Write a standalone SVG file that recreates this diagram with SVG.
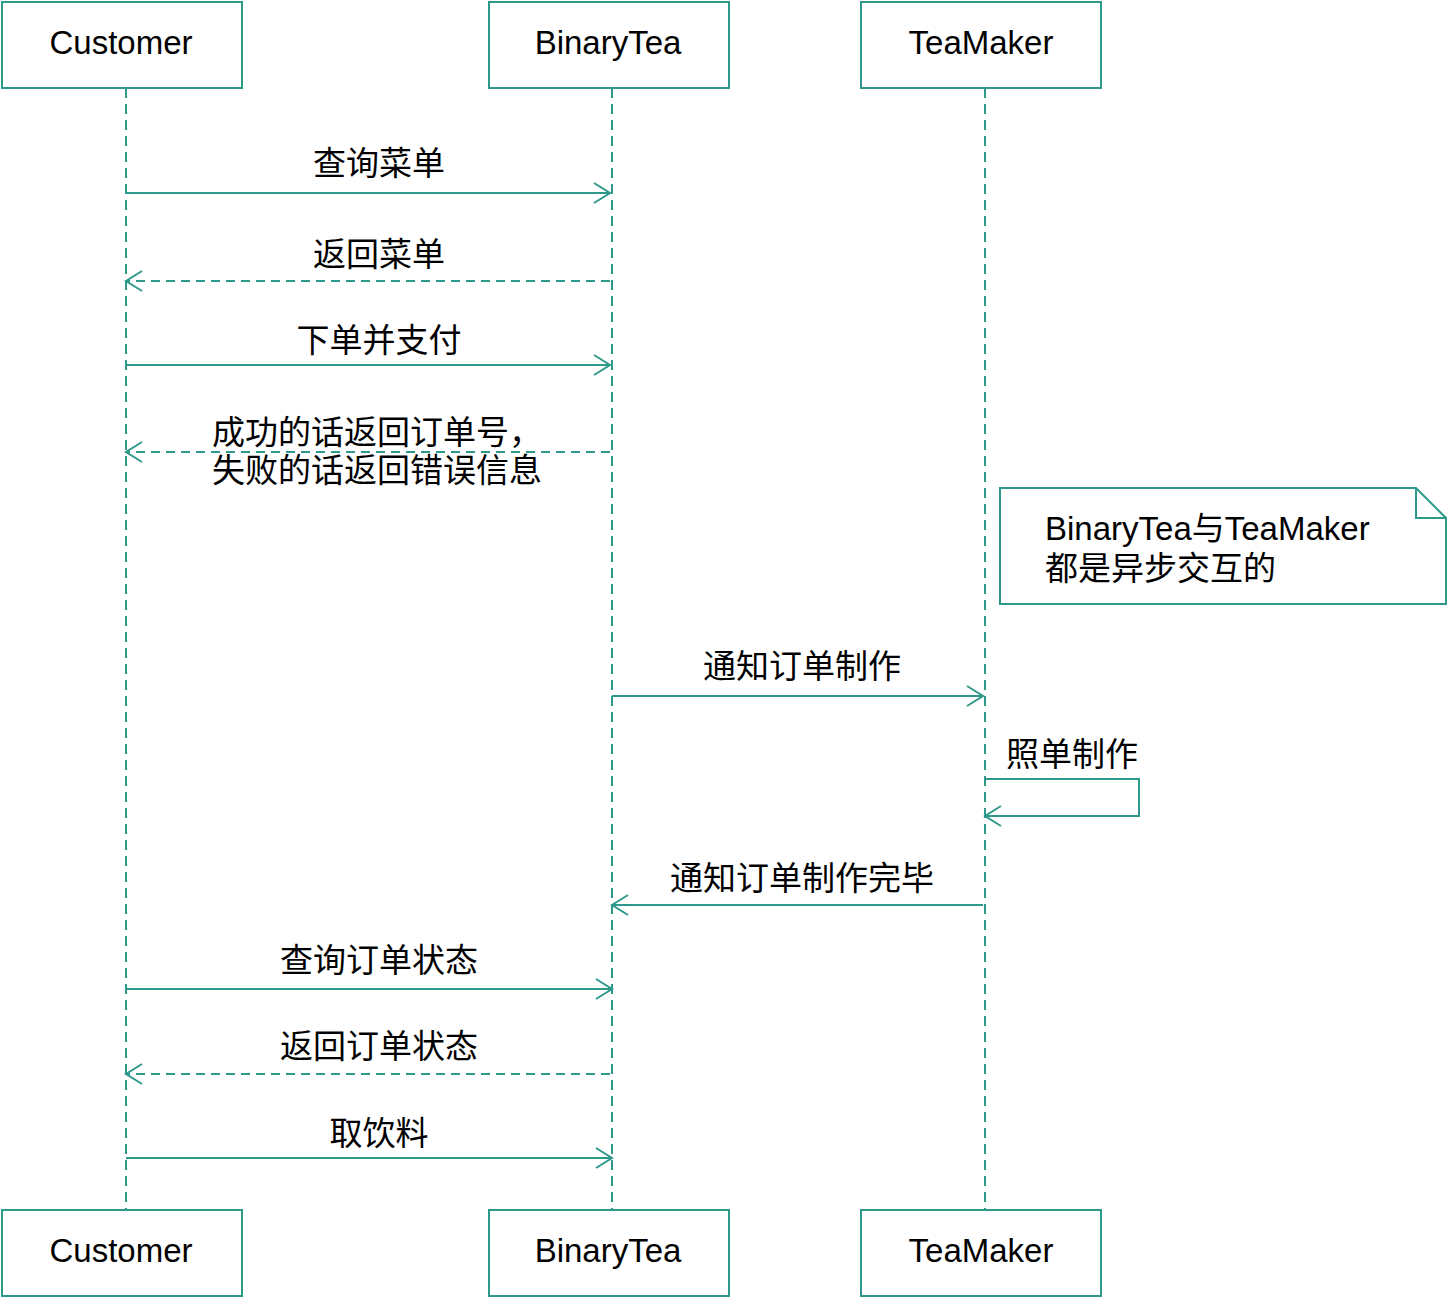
<svg xmlns="http://www.w3.org/2000/svg" width="1448" height="1298" viewBox="0 0 1448 1298">
<style>
.box{fill:#fff;stroke:#2e998a;stroke-width:2}
.life{stroke:#2e998a;stroke-width:2;stroke-dasharray:10 6;fill:none}
.msg{stroke:#2e998a;stroke-width:2;fill:none;marker-end:url(#arr)}
.ret{stroke:#2e998a;stroke-width:2;fill:none;stroke-dasharray:9 6;marker-end:url(#arr)}
.t{font-family:"Liberation Sans","Noto Sans CJK SC",Arial,sans-serif;font-size:33px;fill:#000}
.c{text-anchor:middle}
</style>
<defs>
<marker id="arr" markerWidth="20" markerHeight="24" refX="17" refY="11" orient="auto" markerUnits="userSpaceOnUse">
<path d="M1,1 L17,11 L1,21" fill="none" stroke="#2e998a" stroke-width="2"/>
</marker>
</defs>
<g id="lifelines">
<line class="life" x1="126" y1="88" x2="126" y2="1210"/>
<line class="life" x1="612" y1="88" x2="612" y2="1210"/>
<line class="life" x1="985" y1="88" x2="985" y2="1210"/>
</g>
<g id="customer-top"><rect class="box" x="2" y="2" width="240" height="86"/><text class="t c" x="121" y="54">Customer</text></g>
<g id="binarytea-top"><rect class="box" x="489" y="2" width="240" height="86"/><text class="t c" x="608" y="54">BinaryTea</text></g>
<g id="teamaker-top"><rect class="box" x="861" y="2" width="240" height="86"/><text class="t c" x="981" y="54">TeaMaker</text></g>
<g id="customer-bottom"><rect class="box" x="2" y="1210" width="240" height="86"/><text class="t c" x="121" y="1262">Customer</text></g>
<g id="binarytea-bottom"><rect class="box" x="489" y="1210" width="240" height="86"/><text class="t c" x="608" y="1262">BinaryTea</text></g>
<g id="teamaker-bottom"><rect class="box" x="861" y="1210" width="240" height="86"/><text class="t c" x="981" y="1262">TeaMaker</text></g>
<g id="note">
<path class="box" d="M1000,488 H1416 L1446,518 V604 H1000 Z"/>
<path d="M1416,488 V518 H1446" fill="none" stroke="#2e998a" stroke-width="2"/>
<text class="t" x="1045" y="540">BinaryTea与TeaMaker</text>
<text class="t" x="1045" y="580">都是异步交互的</text>
</g>
<g id="connectors">
<line class="msg" x1="126" y1="193" x2="610" y2="193"/>
<line class="ret" x1="610" y1="281" x2="126" y2="281"/>
<line class="msg" x1="126" y1="365" x2="610" y2="365"/>
<line class="ret" x1="610" y1="452" x2="126" y2="452"/>
<line class="msg" x1="612" y1="696" x2="983" y2="696"/>
<path class="msg" d="M985,779 H1139 V816 H985"/>
<line class="msg" x1="983" y1="905" x2="612" y2="905"/>
<line class="msg" x1="126" y1="989" x2="612" y2="989"/>
<line class="ret" x1="610" y1="1074" x2="126" y2="1074"/>
<line class="msg" x1="126" y1="1158" x2="612" y2="1158"/>
</g>
<g id="labels">
<text class="t c" x="379" y="175">查询菜单</text>
<text class="t c" x="379" y="266">返回菜单</text>
<text class="t c" x="379" y="352">下单并支付</text>
<text class="t" x="212" y="444">成功的话返回订单号，</text>
<text class="t" x="212" y="482">失败的话返回错误信息</text>
<text class="t c" x="802" y="678">通知订单制作</text>
<text class="t" x="1006" y="766">照单制作</text>
<text class="t c" x="802" y="890">通知订单制作完毕</text>
<text class="t c" x="379" y="972">查询订单状态</text>
<text class="t c" x="379" y="1058">返回订单状态</text>
<text class="t c" x="379" y="1145">取饮料</text>
</g>
</svg>
